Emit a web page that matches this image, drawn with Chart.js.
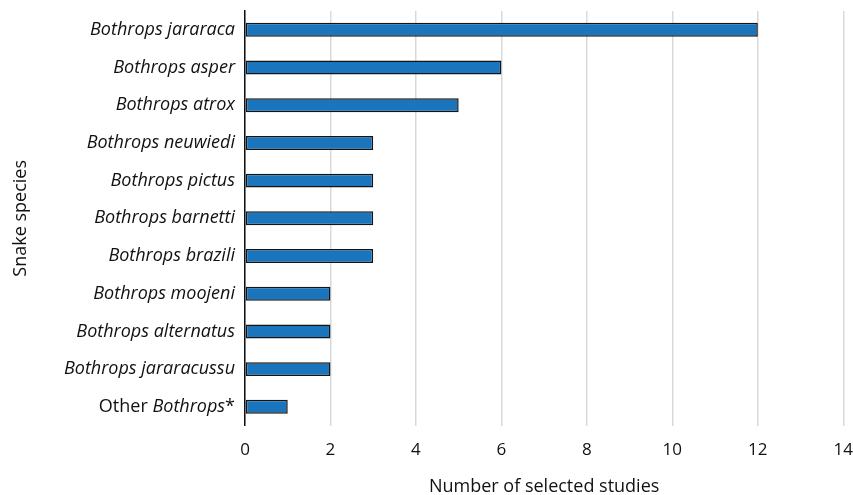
<!DOCTYPE html>
<html>
<head>
<meta charset="utf-8">
<script src="https://cdn.jsdelivr.net/npm/chart.js@4"></script>
<style>
html,body{margin:0;padding:0;background:#fff;}
#wrap{width:853px;height:495px;position:relative;}
</style>
</head>
<body>
<div id="wrap"><canvas id="c"></canvas></div>
<script>
const categories = [
  "Bothrops jararaca",
  "Bothrops asper",
  "Bothrops atrox",
  "Bothrops neuwiedi",
  "Bothrops pictus",
  "Bothrops barnetti",
  "Bothrops brazili",
  "Bothrops moojeni",
  "Bothrops alternatus",
  "Bothrops jararacussu",
  "Other Bothrops*"
];
const studies = [12, 6, 5, 3, 3, 3, 3, 2, 2, 2, 1];
const xTicks = [0, 2, 4, 6, 8, 10, 12, 14];
const xTitle = "Number of selected studies";
const yTitle = "Snake species";

const FONT = "'Open Sans', sans-serif";
const FS = 18;

const mixedLabel = {
  id: 'mixedLabel',
  afterDraw(chart) {
    const y = chart.scales.y;
    const idx = categories.length - 1;
    const py = y.getPixelForTick(idx);
    const ctx = chart.ctx;
    ctx.save();
    ctx.fillStyle = '#111';
    ctx.textBaseline = 'middle';
    const parts = [["Other ", "normal"], ["Bothrops", "italic"], ["*", "normal"]];
    let widths = parts.map(p => { ctx.font = p[1] + " " + FS + "px " + FONT; return ctx.measureText(p[0]).width; });
    let total = widths.reduce((a, b) => a + b, 0);
    let x = y.right - 10 - total;
    parts.forEach((p, i) => {
      ctx.font = p[1] + " " + FS + "px " + FONT;
      ctx.textAlign = 'left';
      ctx.fillText(p[0], x, py);
      x += widths[i];
    });
    ctx.restore();
  }
};

new Chart(document.getElementById('c'), {
  type: 'bar',
  data: {
    labels: categories,
    datasets: [{
      data: studies,
      backgroundColor: '#1a75bd',
      borderColor: '#141414',
      borderWidth: 1.5,
      borderSkipped: false,
      categoryPercentage: 1,
      barPercentage: 0.37
    }]
  },
  options: {
    indexAxis: 'y',
    responsive: true,
    maintainAspectRatio: false,
    animation: false,
    layout: { padding: { left: 10, right: 0, top: 11, bottom: 0 } },
    plugins: { legend: { display: false }, tooltip: { enabled: false } },
    scales: {
      x: {
        min: 0, max: 14,
        afterBuildTicks(scale) { scale.ticks = xTicks.map(v => ({ value: v })); },
        grid: { color: '#d9d9d9', lineWidth: 1.5, drawTicks: false },
        border: { display: false },
        ticks: { color: '#111', font: { family: FONT, size: 17, lineHeight: 2.9 }, padding: 0 },
        title: { display: true, text: xTitle, color: '#111', font: { family: FONT, size: FS, lineHeight: 0.89 }, padding: { top: 4, bottom: 0 } }
      },
      y: {
        afterFit(scale) { scale.width = 235; },
        grid: { display: false, drawTicks: false },
        border: { display: true, color: '#111', width: 1.5 },
        ticks: {
          padding: 10,
          color: (ctx) => ctx.index === categories.length - 1 ? 'rgba(0,0,0,0)' : '#111',
          font: { family: FONT, size: FS, style: 'italic', lineHeight: 0.1 }
        },
        title: { display: true, text: yTitle, color: '#111', font: { family: FONT, size: FS }, padding: { top: 0, bottom: 0 } }
      }
    }
  },
  plugins: [mixedLabel]
});
</script>
</body>
</html>
